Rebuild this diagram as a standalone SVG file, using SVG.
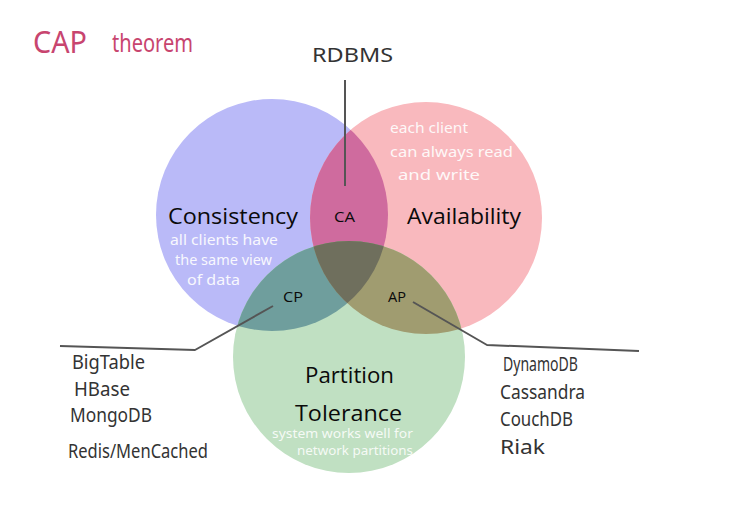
<svg xmlns="http://www.w3.org/2000/svg" width="729" height="507" viewBox="0 0 729 507">
  <defs>
    <clipPath id="clip-c"><circle cx="272" cy="215" r="116"/></clipPath>
    <clipPath id="clip-a"><circle cx="426" cy="218" r="116"/></clipPath>
    <style>
      .label { font-family: "Open Sans", "Noto Sans", sans-serif; fill: #0a0a0a; }
      .big { font-size: 22px; }
      .small { font-size: 15px; }
      .hand { font-family: "Noto Sans", "DejaVu Sans", sans-serif; font-weight: 400; }
      .note { fill: #ffffff; font-size: 15px; opacity: 0.9; }
      .note-s { fill: #ffffff; font-size: 12px; opacity: 0.85; }
      .db { fill: #333333; font-size: 19px; }
      .conn { fill: none; stroke: #555555; stroke-width: 2; stroke-linejoin: round; }
    </style>
  </defs>

  <rect width="729" height="507" fill="#ffffff"/>

  <!-- title -->
  <g id="title">
    <text class="hand" x="33" y="53" font-size="30" fill="#c8456f" textLength="54" lengthAdjust="spacingAndGlyphs">CAP</text>
    <text class="hand" x="112" y="52" font-size="26" fill="#c8456f" textLength="81" lengthAdjust="spacingAndGlyphs">theorem</text>
  </g>

  <!-- base circles -->
  <g id="consistency">
    <circle cx="272" cy="215" r="116" fill="#babaf8"/>
  </g>
  <g id="availability">
    <circle cx="426" cy="218" r="116" fill="#f9b9be"/>
  </g>
  <g id="partition">
    <circle cx="349" cy="357" r="116" fill="#c0e0c2"/>
  </g>

  <!-- overlap regions -->
  <g id="ca">
    <g clip-path="url(#clip-c)"><circle cx="426" cy="218" r="116" fill="#cf6b9e"/></g>
  </g>
  <g id="cp">
    <g clip-path="url(#clip-c)"><circle cx="349" cy="357" r="116" fill="#6f9e9d"/></g>
  </g>
  <g id="ap">
    <g clip-path="url(#clip-a)"><circle cx="349" cy="357" r="116" fill="#a09c70"/></g>
  </g>
  <g id="cap">
    <g clip-path="url(#clip-c)"><g clip-path="url(#clip-a)"><circle cx="349" cy="357" r="116" fill="#6f6f5d"/></g></g>
  </g>

  <!-- connectors -->
  <g id="connectors">
    <line class="conn" x1="345" y1="80" x2="345" y2="186"/>
    <polyline class="conn" points="273,306 195,350 60,346"/>
    <polyline class="conn" points="413,302 487,345 639,351"/>
  </g>

  <!-- circle labels -->
  <g id="labels">
    <text class="label big" x="168" y="224" textLength="130" lengthAdjust="spacingAndGlyphs">Consistency</text>
    <text class="label big" x="407" y="224" textLength="114" lengthAdjust="spacingAndGlyphs">Availability</text>
    <text class="label big" x="305" y="383" textLength="89" lengthAdjust="spacingAndGlyphs">Partition</text>
    <text class="label big" x="295" y="421" textLength="107" lengthAdjust="spacingAndGlyphs">Tolerance</text>
    <text class="label small" x="334" y="222" textLength="21" lengthAdjust="spacingAndGlyphs">CA</text>
    <text class="label small" x="283" y="302" textLength="20" lengthAdjust="spacingAndGlyphs">CP</text>
    <text class="label small" x="388" y="302" textLength="18" lengthAdjust="spacingAndGlyphs">AP</text>
  </g>

  <!-- descriptions -->
  <g id="notes">
    <text class="hand note" x="390" y="133" textLength="78" lengthAdjust="spacingAndGlyphs">each client</text>
    <text class="hand note" x="390" y="157" textLength="123" lengthAdjust="spacingAndGlyphs">can always read</text>
    <text class="hand note" x="398" y="180" textLength="82" lengthAdjust="spacingAndGlyphs">and write</text>
    <text class="hand note" x="170" y="245" textLength="108" lengthAdjust="spacingAndGlyphs">all clients have</text>
    <text class="hand note" x="175" y="265" textLength="97" lengthAdjust="spacingAndGlyphs">the same view</text>
    <text class="hand note" x="187" y="285" textLength="53" lengthAdjust="spacingAndGlyphs">of data</text>
    <text class="hand note-s" x="272" y="438" textLength="141" lengthAdjust="spacingAndGlyphs">system works well for</text>
    <text class="hand note-s" x="297" y="455" textLength="116" lengthAdjust="spacingAndGlyphs">network partitions</text>
  </g>

  <!-- systems -->
  <g id="rdbms">
    <text class="hand db" x="312" y="62" font-size="23" textLength="81" lengthAdjust="spacingAndGlyphs">RDBMS</text>
  </g>
  <g id="cp-systems">
    <text class="hand db" x="72" y="369" textLength="73" lengthAdjust="spacingAndGlyphs">BigTable</text>
    <text class="hand db" x="74" y="396" textLength="56" lengthAdjust="spacingAndGlyphs">HBase</text>
    <text class="hand db" x="70" y="422" textLength="82" lengthAdjust="spacingAndGlyphs">MongoDB</text>
    <text class="hand db" x="68" y="458" textLength="140" lengthAdjust="spacingAndGlyphs">Redis/MenCached</text>
  </g>
  <g id="ap-systems">
    <text class="hand db" x="503" y="371" textLength="75" lengthAdjust="spacingAndGlyphs">DynamoDB</text>
    <text class="hand db" x="500" y="399" textLength="85" lengthAdjust="spacingAndGlyphs">Cassandra</text>
    <text class="hand db" x="500" y="426" textLength="73" lengthAdjust="spacingAndGlyphs">CouchDB</text>
    <text class="hand db" x="500" y="454" textLength="45" lengthAdjust="spacingAndGlyphs">Riak</text>
  </g>
</svg>
